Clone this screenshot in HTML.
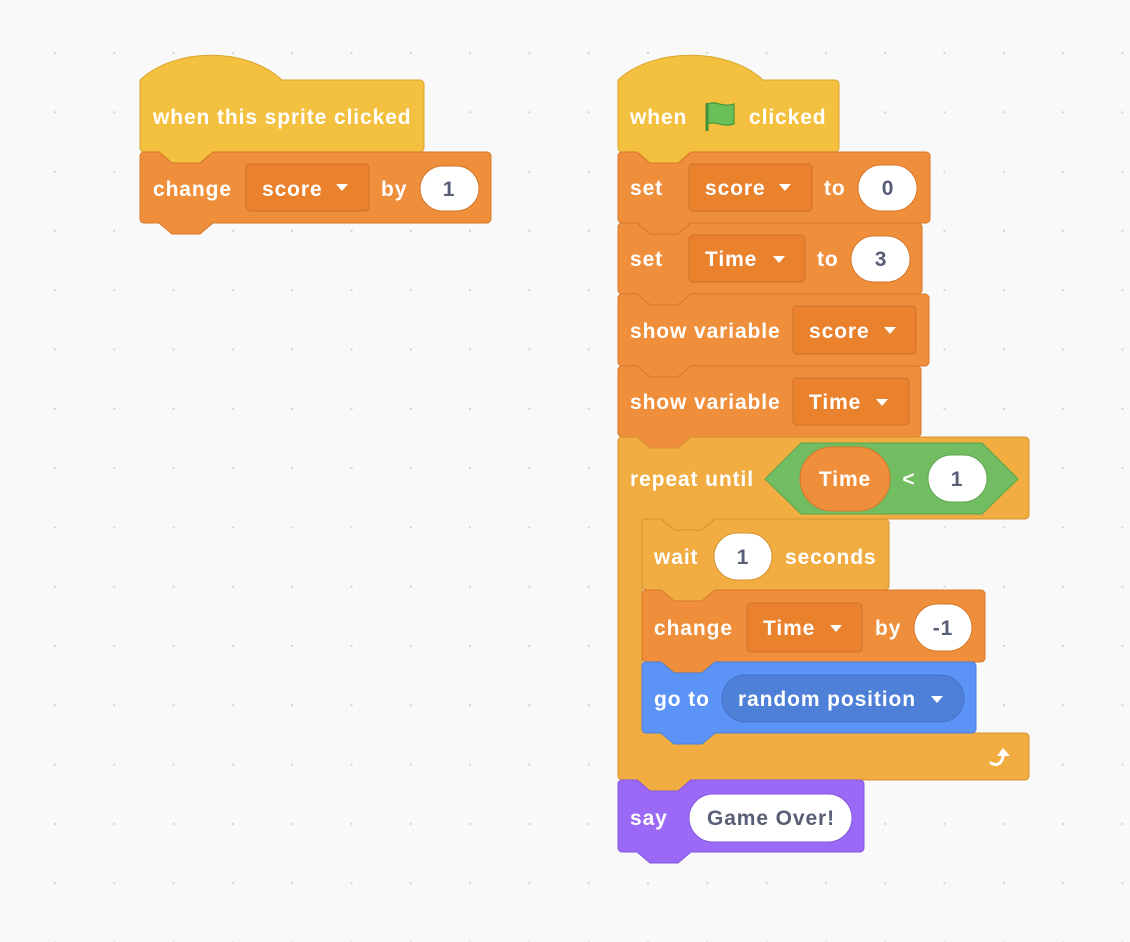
<!DOCTYPE html>
<html><head><meta charset="utf-8"><style>
html,body{margin:0;padding:0;background:#f9f9f9;}
svg{display:block}
text{font-family:"Liberation Sans",Arial,sans-serif;font-weight:bold;font-size:21px;letter-spacing:0.9px;fill:#fff}
.v{fill:#575e75;text-anchor:middle}
.c{text-anchor:middle}
</style></head><body>
<svg width="1130" height="942" viewBox="0 0 1130 942" xmlns="http://www.w3.org/2000/svg">
<defs>
<pattern id="dots" x="54" y="52" width="59.3" height="59.3" patternUnits="userSpaceOnUse">
<rect x="0" y="0" width="2" height="2" fill="#d4d4d4"/>
</pattern>
</defs>
<rect width="1130" height="942" fill="#f9f9f9"/>
<rect width="1130" height="942" fill="url(#dots)"/>

<!-- Stack 1 -->
<path d="M140 80 c35 -33 107 -33 142 0 H420 a4 4 0 0 1 4 4 V148 a4 4 0 0 1 -4 4 H213 l-13 11 h-28 l-13 -11 H144 a4 4 0 0 1 -4 -4 z" fill="#f4c03f" stroke="#d9a52c" stroke-width="1"/>
<text x="153" y="124">when this sprite clicked</text>
<path d="M140 156 a4 4 0 0 1 4 -4 h15 l13 11 h28 l13 -11 H487 a4 4 0 0 1 4 4 V219 a4 4 0 0 1 -4 4 H213 l-13 11 h-28 l-13 -11 H144 a4 4 0 0 1 -4 -4 z" fill="#ef8f3b" stroke="#d5772c" stroke-width="1"/>
<text x="153" y="196">change</text>
<rect x="246" y="164" width="123" height="47" rx="4" fill="#e9812d" stroke="#cf712a"/>
<text x="262" y="196">score</text>
<polygon points="336,184 348,184 342,191" fill="#fff"/>
<text x="381" y="196">by</text>
<rect x="420" y="166" width="59" height="45" rx="22.5" fill="#fff" stroke="#d5772c"/>
<text class="v" x="449" y="196">1</text>

<!-- Stack 2 -->
<path d="M618 80 c35 -33 110 -33 145 0 H835 a4 4 0 0 1 4 4 V148 a4 4 0 0 1 -4 4 H691 l-13 11 h-28 l-13 -11 H622 a4 4 0 0 1 -4 -4 z" fill="#f4c03f" stroke="#d9a52c" stroke-width="1"/>
<text x="630" y="124">when</text>
<g>
<path d="M707 103 v28" stroke="#3f8f3a" stroke-width="3"/>
<path d="M708 104 c8 -4 14 4 26 0 v20 c-12 4 -18 -4 -26 0 z" fill="#6bbf59" stroke="#45993d" stroke-width="1.2"/>
</g>
<text x="749" y="124">clicked</text>

<!-- set score -->
<path d="M618 156 a4 4 0 0 1 4 -4 h15 l13 11 h28 l13 -11 H926 a4 4 0 0 1 4 4 V219 a4 4 0 0 1 -4 4 H691 l-13 11 h-28 l-13 -11 H622 a4 4 0 0 1 -4 -4 z" fill="#ef8f3b" stroke="#d5772c"/>
<text x="630" y="195">set</text>
<rect x="689" y="164" width="123" height="47" rx="4" fill="#e9812d" stroke="#cf712a"/>
<text x="705" y="195">score</text>
<polygon points="779,184 791,184 785,191" fill="#fff"/>
<text x="824" y="195">to</text>
<rect x="858" y="165" width="59" height="46" rx="23" fill="#fff" stroke="#d5772c"/>
<text class="v" x="888" y="195">0</text>

<!-- set Time -->
<path d="M618 227 a4 4 0 0 1 4 -4 h15 l13 11 h28 l13 -11 H918 a4 4 0 0 1 4 4 V290 a4 4 0 0 1 -4 4 H691 l-13 11 h-28 l-13 -11 H622 a4 4 0 0 1 -4 -4 z" fill="#ef8f3b" stroke="#d5772c"/>
<text x="630" y="266">set</text>
<rect x="689" y="235" width="116" height="47" rx="4" fill="#e9812d" stroke="#cf712a"/>
<text x="705" y="266">Time</text>
<polygon points="773,256 785,256 779,263" fill="#fff"/>
<text x="817" y="266">to</text>
<rect x="851" y="236" width="59" height="46" rx="23" fill="#fff" stroke="#d5772c"/>
<text class="v" x="881" y="266">3</text>

<!-- show variable score -->
<path d="M618 298 a4 4 0 0 1 4 -4 h15 l13 11 h28 l13 -11 H925 a4 4 0 0 1 4 4 V362 a4 4 0 0 1 -4 4 H691 l-13 11 h-28 l-13 -11 H622 a4 4 0 0 1 -4 -4 z" fill="#ef8f3b" stroke="#d5772c"/>
<text x="630" y="338">show variable</text>
<rect x="793" y="306" width="123" height="48" rx="4" fill="#e9812d" stroke="#cf712a"/>
<text x="809" y="338">score</text>
<polygon points="884,327 896,327 890,334" fill="#fff"/>

<!-- show variable Time -->
<path d="M618 370 a4 4 0 0 1 4 -4 h15 l13 11 h28 l13 -11 H917 a4 4 0 0 1 4 4 V433 a4 4 0 0 1 -4 4 H691 l-13 11 h-28 l-13 -11 H622 a4 4 0 0 1 -4 -4 z" fill="#ef8f3b" stroke="#d5772c"/>
<text x="630" y="409">show variable</text>
<rect x="793" y="378" width="116" height="47" rx="4" fill="#e9812d" stroke="#cf712a"/>
<text x="809" y="409">Time</text>
<polygon points="876,399 888,399 882,406" fill="#fff"/>

<!-- repeat until -->
<path d="M618 441 a4 4 0 0 1 4 -4 h15 l13 11 h28 l13 -11 H1025 a4 4 0 0 1 4 4 V515 a4 4 0 0 1 -4 4 H715 l-13 11 h-28 l-13 -11 H646 a4 4 0 0 0 -4 4 V729 a4 4 0 0 0 4 4 H1025 a4 4 0 0 1 4 4 V776 a4 4 0 0 1 -4 4 H691 l-13 11 h-28 l-13 -11 H622 a4 4 0 0 1 -4 -4 z" fill="#f1ad41" stroke="#d4922e"/>
<text x="630" y="486">repeat until</text>
<polygon points="765,479 801,443 982,443 1018,479 982,514 801,514" fill="#72bc62" stroke="#5aa84c"/>
<rect x="800" y="447" width="90" height="64" rx="32" fill="#ef8f3b" stroke="#d5772c"/>
<text class="c" x="845" y="486">Time</text>
<text class="c" x="909" y="486">&lt;</text>
<rect x="928" y="455" width="59" height="47" rx="23.5" fill="#fff" stroke="#5aa84c"/>
<text class="v" x="957" y="486">1</text>
<path d="M991 763 c5 3 10 2 12 -6 l0 -3" fill="none" stroke="#fff" stroke-width="3" stroke-linecap="round"/>
<polygon points="997,756 1003,748 1010,756" fill="#fff"/>

<!-- wait -->
<path d="M642 523 a4 4 0 0 1 4 -4 h15 l13 11 h28 l13 -11 H885 a4 4 0 0 1 4 4 V586 a4 4 0 0 1 -4 4 H715 l-13 11 h-28 l-13 -11 H646 a4 4 0 0 1 -4 -4 z" fill="#f1ad41" stroke="#d4922e"/>
<text x="654" y="564">wait</text>
<rect x="714" y="533" width="58" height="47" rx="23.5" fill="#fff" stroke="#d4922e"/>
<text class="v" x="743" y="564">1</text>
<text x="785" y="564">seconds</text>

<!-- change Time -->
<path d="M642 594 a4 4 0 0 1 4 -4 h15 l13 11 h28 l13 -11 H981 a4 4 0 0 1 4 4 V658 a4 4 0 0 1 -4 4 H715 l-13 11 h-28 l-13 -11 H646 a4 4 0 0 1 -4 -4 z" fill="#ef8f3b" stroke="#d5772c"/>
<text x="654" y="635">change</text>
<rect x="747" y="603" width="115" height="49" rx="4" fill="#e9812d" stroke="#cf712a"/>
<text x="763" y="635">Time</text>
<polygon points="830,625 842,625 836,632" fill="#fff"/>
<text x="875" y="635">by</text>
<rect x="914" y="604" width="58" height="47" rx="23.5" fill="#fff" stroke="#d5772c"/>
<text class="v" x="943" y="635">-1</text>

<!-- go to -->
<path d="M642 666 a4 4 0 0 1 4 -4 h15 l13 11 h28 l13 -11 H972 a4 4 0 0 1 4 4 V729 a4 4 0 0 1 -4 4 H715 l-13 11 h-28 l-13 -11 H646 a4 4 0 0 1 -4 -4 z" fill="#5c93f7" stroke="#4a7fe0"/>
<text x="654" y="706">go to</text>
<rect x="722" y="675" width="242" height="47" rx="23.5" fill="#4f80d8" stroke="#4470c8"/>
<text x="738" y="706">random position</text>
<polygon points="931,696 943,696 937,703" fill="#fff"/>

<!-- say -->
<path d="M618 784 a4 4 0 0 1 4 -4 h15 l13 11 h28 l13 -11 H860 a4 4 0 0 1 4 4 V848 a4 4 0 0 1 -4 4 H691 l-13 11 h-28 l-13 -11 H622 a4 4 0 0 1 -4 -4 z" fill="#9a69f5" stroke="#8456e0"/>
<text x="630" y="825">say</text>
<rect x="689" y="794" width="163" height="48" rx="24" fill="#fff" stroke="#8456e0"/>
<text class="v" x="771" y="825">Game Over!</text>
</svg>
</body></html>
